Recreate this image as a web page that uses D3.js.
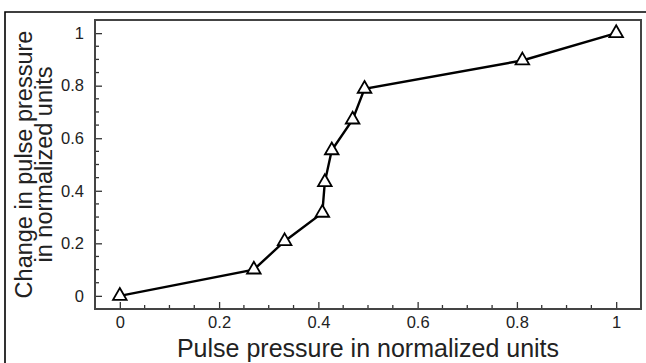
<!DOCTYPE html>
<html>
<head>
<meta charset="utf-8">
<script src="https://cdn.jsdelivr.net/npm/d3@7"></script>
<style>
  html, body { margin: 0; padding: 0; background: #fff; }
  svg { display: block; }
  text { font-family: "Liberation Sans", Arial, Helvetica, sans-serif; fill: #222; }
</style>
</head>
<body>
<svg id="chart" width="646" height="363"></svg>
<script>
// Measured pulse-pressure response (normalized)
const pulsePressure = [0, 0.27, 0.332, 0.408, 0.413, 0.427, 0.469, 0.493, 0.811, 1.0];
const pressureChange = [0, 0.10, 0.208, 0.316, 0.433, 0.554, 0.671, 0.788, 0.896, 1.0];
const xTicks = [0, 0.2, 0.4, 0.6, 0.8, 1];
const yTicks = [0, 0.2, 0.4, 0.6, 0.8, 1];
const xTitle = "Pulse pressure in normalized units";
const yTitleLines = ["Change in pulse pressure", "in normalized units"];

const svg = d3.select("#chart");
const W = 646, H = 363;
const plot = { left: 95, top: 20, right: 641, bottom: 309 };

// Outer panel border
svg.append("path")
  .attr("d", `M5,${H + 5} L5,12 L${W + 5},12`)
  .attr("fill", "none").attr("stroke", "#000").attr("stroke-width", 1.6);

const x = d3.scaleLinear().domain([-0.05, 1.05]).range([plot.left, plot.right]);
const y = d3.scaleLinear().domain([-0.05, 1.05]).range([plot.bottom, plot.top]);

// Minor ticks every 0.05
const minor = d3.range(0, 1.0001, 0.05).filter(v => Math.abs(v * 5 - Math.round(v * 5)) > 1e-6);

const xAxis = svg.append("g").attr("transform", `translate(0,${plot.bottom})`);
xAxis.call(d3.axisBottom(x).tickValues(xTicks).tickSize(-7).tickPadding(7)
  .tickFormat(d3.format("~g")));
xAxis.append("g").call(g => g.selectAll("line").data(minor).join("line")
  .attr("x1", d => x(d)).attr("x2", d => x(d)).attr("y1", 0).attr("y2", -4));

const yAxis = svg.append("g").attr("transform", `translate(${plot.left},0)`);
yAxis.call(d3.axisLeft(y).tickValues(yTicks).tickSize(-7).tickPadding(11)
  .tickFormat(d3.format("~g")));
yAxis.append("g").call(g => g.selectAll("line").data(minor).join("line")
  .attr("y1", d => y(d)).attr("y2", d => y(d)).attr("x1", 0).attr("x2", 4));

[xAxis, yAxis].forEach(a => {
  a.select(".domain").remove();
  a.selectAll("line").attr("stroke", "#333").attr("stroke-width", 1.3);
  a.selectAll("text").attr("font-size", 16.5).attr("fill", "#222")
    .style("font-family", '"Liberation Sans", Arial, sans-serif');
});

// Plot frame
svg.append("rect")
  .attr("x", plot.left).attr("y", plot.top)
  .attr("width", plot.right - plot.left).attr("height", plot.bottom - plot.top)
  .attr("fill", "none").attr("stroke", "#444").attr("stroke-width", 2);

const pts = pulsePressure.map((v, i) => [v, pressureChange[i]]);

svg.append("path")
  .datum(pts)
  .attr("d", d3.line().x(d => x(d[0])).y(d => y(d[1])))
  .attr("fill", "none").attr("stroke", "#000").attr("stroke-width", 2.4);

const tri = d3.symbol().type(d3.symbolTriangle).size(80);
svg.append("g").selectAll("path").data(pts).join("path")
  .attr("d", tri)
  .attr("transform", d => `translate(${x(d[0])},${y(d[1])})`)
  .attr("fill", "#fff").attr("stroke", "#000").attr("stroke-width", 1.8);

// Axis titles
svg.append("text")
  .attr("x", (plot.left + plot.right) / 2).attr("y", 356.5)
  .attr("text-anchor", "middle").attr("font-size", 25)
  .text(xTitle);

const yt = svg.append("text")
  .attr("transform", `translate(32,${(plot.top + plot.bottom) / 2}) rotate(-90)`)
  .attr("text-anchor", "middle").attr("font-size", 23.5);
yTitleLines.forEach((t, i) => {
  yt.append("tspan").attr("x", 0).attr("dy", i === 0 ? 0 : 19.5).text(t);
});
</script>
</body>
</html>
